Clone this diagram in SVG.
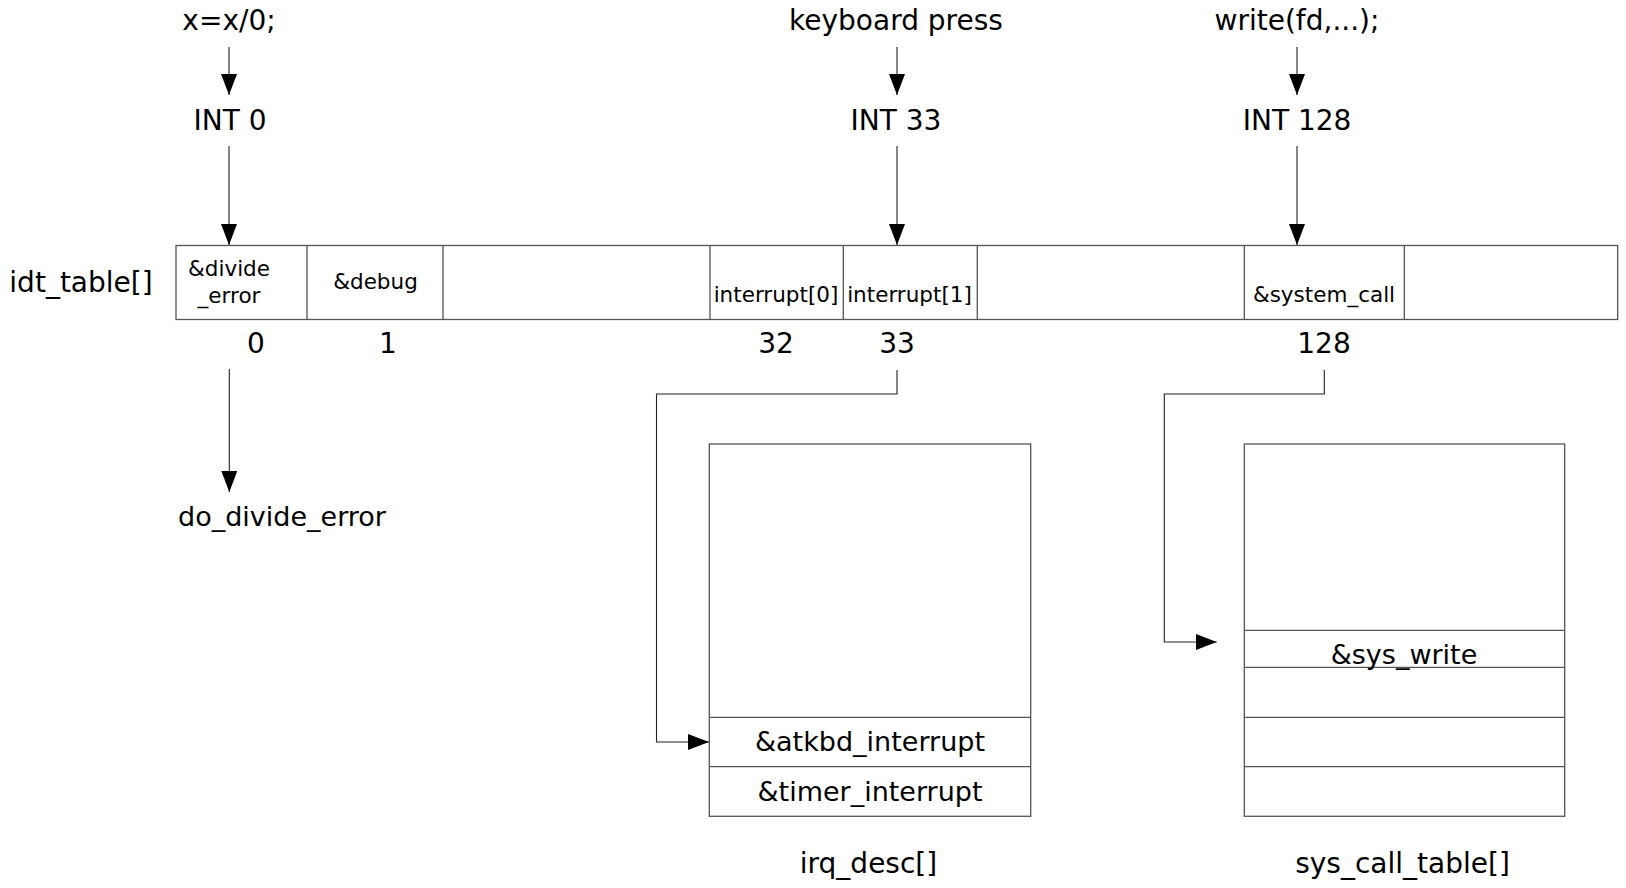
<svg xmlns="http://www.w3.org/2000/svg" width="1626" height="888" viewBox="0 0 1626 888">
<style>
text{font-family:"DejaVu Sans","Liberation Sans",sans-serif;fill:#000;text-anchor:middle}
.l{font-size:28px}
.m{font-size:27px}
.s{font-size:21.5px}
.box{fill:#fff;stroke:#555;stroke-width:1.3}
.div{stroke:#555;stroke-width:1.3;fill:none}
.con{stroke:#222;stroke-width:1.1;fill:none}
</style>
<defs>
<marker id="ah" viewBox="0 0 21 16" refX="21" refY="8" markerWidth="21" markerHeight="16" markerUnits="userSpaceOnUse" orient="auto">
<path d="M0,0 L21,8 L0,16 Z" fill="#000"/>
</marker>
</defs>
<rect width="1626" height="888" fill="#fff"/>

<g id="labels-top">
<text class="l" x="229" y="30">x=x/0;</text>
<text class="l" x="896" y="30">keyboard press</text>
<text class="l" x="1297" y="30">write(fd,...);</text>
<text class="l" x="230" y="130">INT 0</text>
<text class="l" x="896" y="130">INT 33</text>
<text class="l" x="1297" y="130">INT 128</text>
</g>

<g id="idt_table">
<text class="l" x="81" y="292">idt_table[]</text>
<rect class="box" x="176" y="245.5" width="1441.7" height="74"/>
<path class="div" d="M307,245.5V319.5M443,245.5V319.5M710,245.5V319.5M843.3,245.5V319.5M977.3,245.5V319.5M1244.3,245.5V319.5M1404.3,245.5V319.5"/>
<text class="s" x="229" y="276">&amp;divide</text>
<text class="s" x="229" y="303">_error</text>
<text class="s" x="375.5" y="289">&amp;debug</text>
<text class="s" x="776" y="302">interrupt[0]</text>
<text class="s" x="909.5" y="302">interrupt[1]</text>
<text class="s" x="1324" y="302">&amp;system_call</text>
<text class="l" x="256" y="353">0</text>
<text class="l" x="388" y="353">1</text>
<text class="l" x="776" y="353">32</text>
<text class="l" x="897" y="353">33</text>
<text class="l" x="1324" y="353">128</text>
</g>

<g id="do_divide_error">
<text class="m" x="282" y="526">do_divide_error</text>
</g>

<g id="irq_desc">
<rect class="box" x="709.3" y="444" width="321.4" height="372.3"/>
<path class="div" d="M709.3,717.3H1030.7M709.3,766.7H1030.7"/>
<text class="m" x="870" y="751">&amp;atkbd_interrupt</text>
<text class="m" x="870" y="801">&amp;timer_interrupt</text>
<text class="l" x="868.5" y="873">irq_desc[]</text>
</g>

<g id="sys_call_table">
<rect class="box" x="1244.3" y="444" width="320.4" height="372.3"/>
<path class="div" d="M1244.3,630.3H1564.7M1244.3,667.3H1564.7M1244.3,717.3H1564.7M1244.3,766.7H1564.7"/>
<text class="m" x="1404" y="664">&amp;sys_write</text>
<text class="l" x="1402.5" y="873">sys_call_table[]</text>
</g>

<g id="connectors">
<path class="con" d="M229,47V95" marker-end="url(#ah)"/>
<path class="con" d="M229,146V245" marker-end="url(#ah)"/>
<path class="con" d="M897,47V95" marker-end="url(#ah)"/>
<path class="con" d="M897,146V245" marker-end="url(#ah)"/>
<path class="con" d="M1297,47V95" marker-end="url(#ah)"/>
<path class="con" d="M1297,146V245" marker-end="url(#ah)"/>
<path class="con" d="M229.3,369V492" marker-end="url(#ah)"/>
<path class="con" d="M897,370V394H656.5V742H709" marker-end="url(#ah)"/>
<path class="con" d="M1324.3,370V394H1164.3V642H1216.7" marker-end="url(#ah)"/>
</g>
</svg>
